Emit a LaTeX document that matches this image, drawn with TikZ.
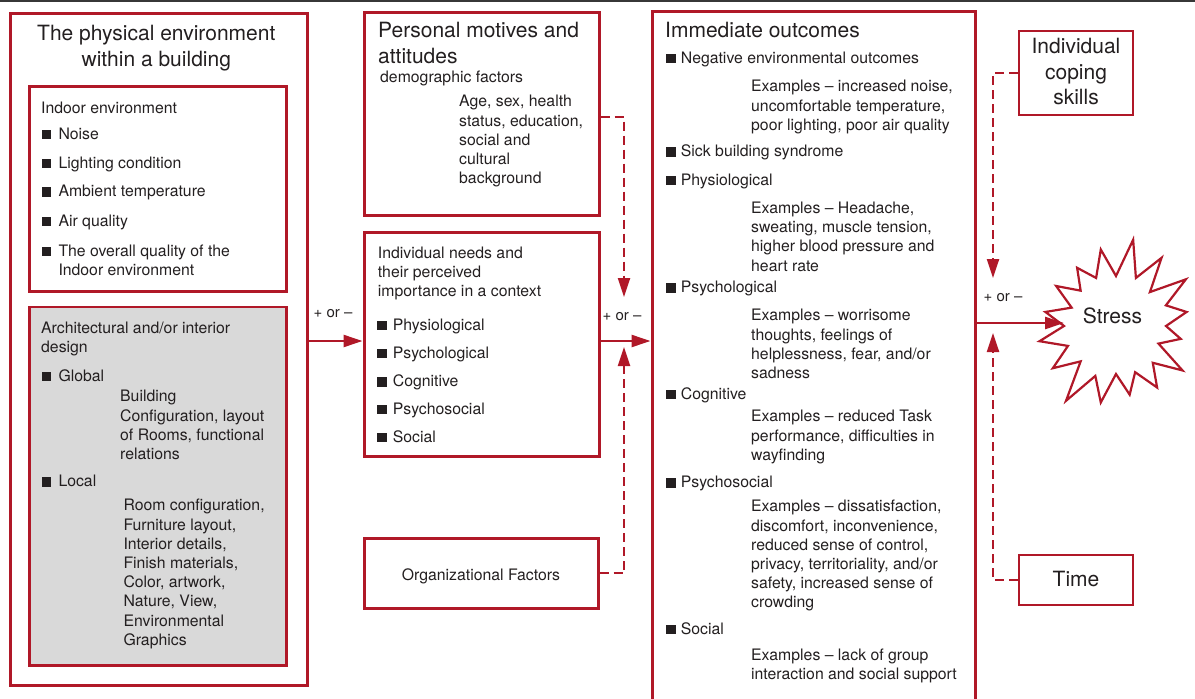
\documentclass[tikz,border=0pt]{standalone}
\usepackage{fontspec}
\setmainfont{TeX Gyre Heros}
\usetikzlibrary{arrows.meta}

\definecolor{brand}{RGB}{176,24,40}
\definecolor{ink}{RGB}{35,31,32}
\definecolor{panel}{RGB}{217,217,217}
\definecolor{topline}{RGB}{55,55,55}

\newcommand\bodyfont{\fontsize{15.8}{19.2}\selectfont}
\newcommand\headfont{\fontsize{21}{26}\selectfont}
\newcommand\signfont{\fontsize{15}{17}\selectfont}

\tikzset{
  box/.style={draw=brand, line width=3pt, rectangle, inner sep=0pt, text=ink},
  subbox/.style={draw=brand, line width=2.3pt, rectangle, inner sep=0pt},
  txt/.style={anchor=north west, inner sep=0pt, align=left, font=\bodyfont, text=ink},
  head/.style={inner sep=0pt, font=\headfont, text=ink},
  bulsq/.style={rectangle, fill=ink, minimum size=9.5pt, inner sep=0pt},
  flow/.style={draw=brand, line width=2.5pt, -{Triangle[length=19pt,width=12pt]}},
  infl/.style={draw=brand, line width=2.3pt, dash pattern=on 9pt off 5pt,
               -{Triangle[length=19pt,width=12pt]}},
  sign/.style={font=\signfont, text=ink, inner sep=0pt, anchor=base},
}

% bullet item: name, x of square, x of text, baseline, text
\newcommand\bitem[5]{%
  \node[bulsq] (#1sq) at (#2+4.75,#4-4.75) {};
  \node[txt] (#1) at (#3,#4-13.44) {\strut #5};
}

\begin{document}
\begin{tikzpicture}[x=1pt, y=-1pt]
\useasboundingbox (0,0) rectangle (1195,699);

% rule along the top edge
\draw[topline, line width=2pt] (0,1) -- (1195,1);

% ---------------- physical environment ----------------
\node[box, minimum width=297pt, minimum height=672pt] (phys) at (159,349) {};
\node[head, anchor=north, align=center] (physhd) at (156.3,40-18.2)
  {\strut The physical environment\\within a building};

\node[subbox, minimum width=257pt, minimum height=205pt] (indoor) at (158,189) {};
\node[txt] (indoorhd) at (41,113.3-13.44) {\strut Indoor environment};
\bitem{noise}{41.5}{58.3}{139}{Noise}
\bitem{light}{41.5}{58.3}{168.3}{Lighting condition}
\bitem{ambient}{41.5}{58.3}{196.7}{Ambient temperature}
\bitem{air}{41.5}{58.3}{226}{Air quality}
\bitem{overall}{41.5}{58.3}{256}{The overall quality of the\\Indoor environment}

\node[subbox, fill=panel, minimum width=257pt, minimum height=358.5pt] (arch) at (158,486.25) {};
\node[txt] (archhd) at (41,333.3-13.44) {\strut Architectural and/or interior\\design};
\bitem{global}{41.5}{58.3}{381}{Global}
\node[txt] (globaltx) at (120,401.7-13.44)
  {\strut Building\\Configuration, layout\\of Rooms, functional\\relations};
\bitem{local}{41.5}{58.3}{486.7}{Local}
\node[txt] (localtx) at (123.3,510.7-13.44)
  {\strut Room configuration,\\Furniture layout,\\Interior details,\\Finish materials,\\Color, artwork,\\Nature, View,\\Environmental\\Graphics};

% ---------------- personal motives ----------------
\node[box, minimum width=235pt, minimum height=203pt] (per) at (481.5,113.5) {};
\node[head, anchor=north west, align=left] (perhd) at (378,37.3-18.2)
  {\strut Personal motives and\\attitudes};
\node[txt] (demo) at (380,82.7-13.44) {\strut demographic factors};
\node[txt] (demotx) at (459,106.7-13.44)
  {\strut Age, sex, health\\status, education,\\social and\\cultural\\background};

% ---------------- individual needs ----------------
\node[box, minimum width=235pt, minimum height=224pt] (needs) at (481.5,344) {};
\node[txt] (needshd) at (377.7,258.3-13.44)
  {\strut Individual needs and\\their perceived\\importance in a context};
\bitem{nphys}{377.3}{392.7}{330}{Physiological}
\bitem{npsych}{377.3}{392.7}{358.3}{Psychological}
\bitem{ncog}{377.3}{392.7}{386.7}{Cognitive}
\bitem{npsoc}{377.3}{392.7}{414.3}{Psychosocial}
\bitem{nsoc}{377.3}{392.7}{442.3}{Social}

% ---------------- organizational factors ----------------
\node[box, font=\bodyfont, text height=14pt, text depth=0pt,
      minimum width=234pt, minimum height=70pt] (org) at (481,573)
  {Organizational Factors};

% ---------------- immediate outcomes ----------------
\node[box, minimum width=323pt, minimum height=748.5pt] (outc) at (813.5,385.75) {};
\node[head, anchor=north west] (outhd) at (665,37.3-18.2) {\strut Immediate outcomes};
\bitem{oneg}{666}{680.7}{63.3}{Negative environmental outcomes}
\node[txt] (exneg) at (751,91.7-13.44)
  {\strut Examples – increased noise,\\uncomfortable temperature,\\poor lighting, poor air quality};
\bitem{osick}{666}{680.7}{156.7}{Sick building syndrome}
\bitem{ophys}{666}{680.7}{185}{Physiological}
\node[txt] (exphys) at (751,213.3-13.44)
  {\strut Examples – Headache,\\sweating, muscle tension,\\higher blood pressure and\\heart rate};
\bitem{opsych}{666}{680.7}{292.7}{Psychological}
\node[txt] (expsych) at (751,320.7-13.44)
  {\strut Examples – worrisome\\thoughts, feelings of\\helplessness, fear, and/or\\sadness};
\bitem{ocog}{666}{680.7}{399.3}{Cognitive}
\node[txt] (excog) at (751,421.7-13.44)
  {\strut Examples – reduced Task\\performance, difficulties in\\wayfinding};
\bitem{opsoc}{666}{680.7}{487.7}{Psychosocial}
\node[txt] (expsoc) at (751,511.7-13.44)
  {\strut Examples – dissatisfaction,\\discomfort, inconvenience,\\reduced sense of control,\\privacy, territoriality, and/or\\safety, increased sense of\\crowding};
\bitem{osoc}{666}{680.7}{634.3}{Social}
\node[txt] (exsoc) at (751,660-13.44)
  {\strut Examples – lack of group\\interaction and social support};

% ---------------- moderators ----------------
\node[box, line width=2.5pt, minimum width=114pt, minimum height=84pt] (cope) at (1076,73) {};
\node[head, anchor=north, align=center, font=\fontsize{21}{25.5}\selectfont] (copetx)
  at (1076,53.5-17.85) {\strut Individual\\coping\\skills};
\node[box, line width=2.5pt, font=\headfont, text height=13.4pt, text depth=0pt,
      minimum width=114pt, minimum height=50pt] (time) at (1076,580) {Time};

% ---------------- stress ----------------
\draw[brand, line width=2.2pt, fill=white, line join=miter, shift={(1116,326)}]
  (-101.25:78) -- (-90:50) -- (-78.75:88) -- (-67.5:52) -- (-56.25:82) -- (-45:48)
  -- (-33.75:84) -- (-22.5:54) -- (-11.25:72) -- (0:50) -- (11.25:66) -- (22.5:46)
  -- (33.75:80) -- (45:52) -- (56.25:74) -- (67.5:50) -- (78.75:70) -- (90:48)
  -- (101.25:78) -- (112.5:54) -- (123.75:90) -- (135:50) -- (146.25:76) -- (157.5:52)
  -- (168.75:78) -- (180:52) -- (191.25:72) -- (202.5:48) -- (213.75:72) -- (225:50)
  -- (236.25:70) -- (247.5:52) -- cycle;
\node[head, anchor=base] (stress) at (1112.5,323.3) {Stress};
\coordinate (starin) at (1064,323);

% ---------------- connectors ----------------
\coordinate (lvl) at (0,341);
\draw[flow] (phys.east |- lvl) -- (needs.west |- lvl);
\draw[flow] (needs.east |- lvl) -- (outc.west |- lvl);
\draw[flow] (outc.east |- starin) -- (starin);

\coordinate (perhit) at (624,297);
\coordinate (orghit) at (624,347);
\coordinate (copehit) at (993,278);
\coordinate (timehit) at (993,333);
\draw[infl] ([yshift=-3.5pt]per.east) -| (perhit);
\draw[infl] (org.east) -| (orghit);
\draw[infl] (cope.west) -| (copehit);
\draw[infl] (time.west) -| (timehit);

\node[sign] (sign1) at (333,317.7) {+ or –};
\node[sign] (sign2) at (622,320) {+ or –};
\node[sign] (sign3) at (1003,301.7) {+ or –};
\end{tikzpicture}
\end{document}
